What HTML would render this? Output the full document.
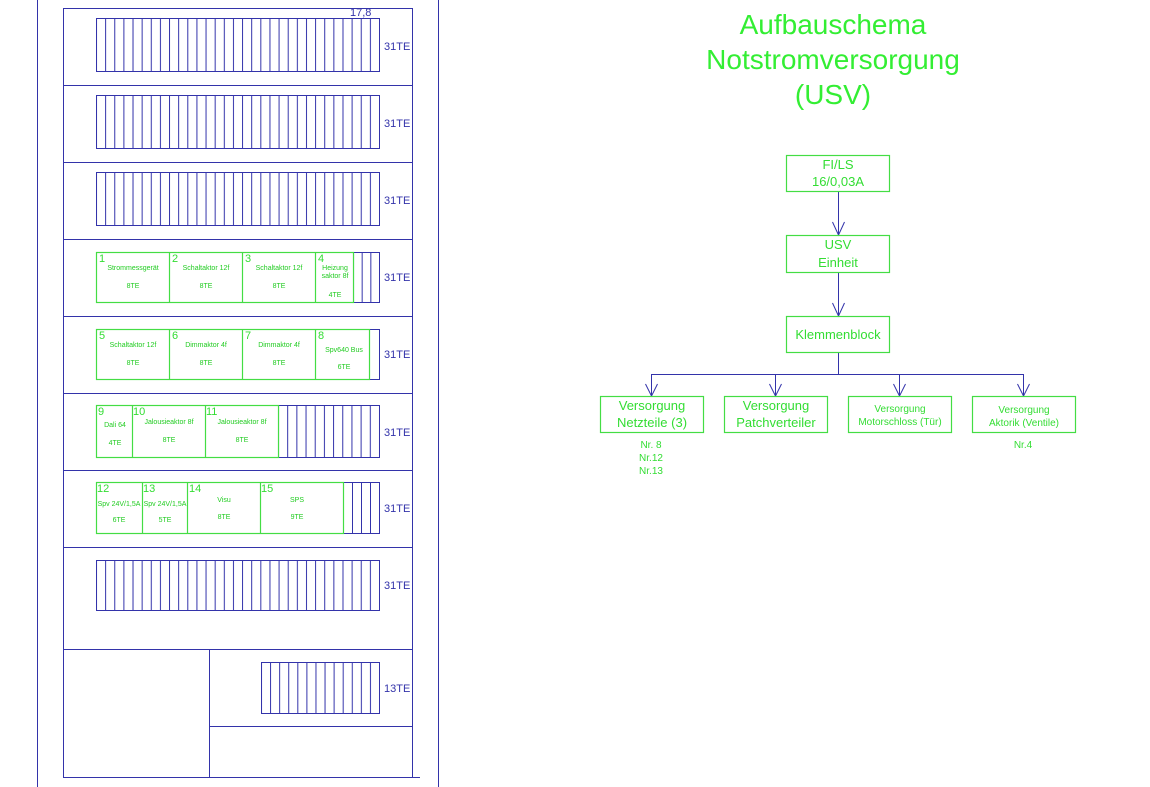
<!DOCTYPE html>
<html><head><meta charset="utf-8"><style>
html,body{margin:0;padding:0;background:#fff;}
svg{display:block;font-family:"Liberation Sans",sans-serif;}
</style></head><body>
<svg width="1150" height="787" viewBox="0 0 1150 787" xmlns="http://www.w3.org/2000/svg">
<defs>
<pattern id="p1" x="96" y="0" width="9.129" height="10" patternUnits="userSpaceOnUse"><line x1="0.5" y1="0" x2="0.5" y2="10" stroke="#3333aa" stroke-width="1"/></pattern>
<pattern id="p6" x="278" y="0" width="9.18" height="10" patternUnits="userSpaceOnUse"><line x1="0.5" y1="0" x2="0.5" y2="10" stroke="#3333aa" stroke-width="1"/></pattern>
<pattern id="p7" x="343" y="0" width="9" height="10" patternUnits="userSpaceOnUse"><line x1="0.5" y1="0" x2="0.5" y2="10" stroke="#3333aa" stroke-width="1"/></pattern>
<pattern id="p4" x="353" y="0" width="8.67" height="10" patternUnits="userSpaceOnUse"><line x1="0.5" y1="0" x2="0.5" y2="10" stroke="#3333aa" stroke-width="1"/></pattern>
<pattern id="p13" x="261" y="0" width="9.077" height="10" patternUnits="userSpaceOnUse"><line x1="0.5" y1="0" x2="0.5" y2="10" stroke="#3333aa" stroke-width="1"/></pattern>
</defs>
<g stroke="#3333aa" fill="none" stroke-width="1">
<line x1="37.5" y1="0" x2="37.5" y2="787"/>
<line x1="438.5" y1="0" x2="438.5" y2="787"/>
<rect x="63.5" y="8.5" width="349" height="769"/>
<line x1="63" y1="85.5" x2="412" y2="85.5"/>
<line x1="63" y1="162.5" x2="412" y2="162.5"/>
<line x1="63" y1="239.5" x2="412" y2="239.5"/>
<line x1="63" y1="316.5" x2="412" y2="316.5"/>
<line x1="63" y1="393.5" x2="412" y2="393.5"/>
<line x1="63" y1="470.5" x2="412" y2="470.5"/>
<line x1="63" y1="547.5" x2="412" y2="547.5"/>
<line x1="63" y1="649.5" x2="412" y2="649.5"/>
<line x1="209.5" y1="649" x2="209.5" y2="778"/>
<line x1="209" y1="726.5" x2="412" y2="726.5"/>
<line x1="412" y1="777.5" x2="420" y2="777.5"/>
</g>
<g stroke="#3333aa" stroke-width="1">
<rect x="96.5" y="18.5" width="283" height="53" fill="url(#p1)"/>
<rect x="96.5" y="95.5" width="283" height="53" fill="url(#p1)"/>
<rect x="96.5" y="172.5" width="283" height="53" fill="url(#p1)"/>
<rect x="96.5" y="560.5" width="283" height="50" fill="url(#p1)"/>
<rect x="261.5" y="662.5" width="118" height="51" fill="url(#p13)"/>
<rect x="353.5" y="252.5" width="26" height="50" fill="url(#p4)"/>
<rect x="369.5" y="329.5" width="10" height="50" fill="none"/>
<rect x="278.5" y="405.5" width="101" height="52" fill="url(#p6)"/>
<rect x="343.5" y="482.5" width="36" height="51" fill="url(#p7)"/>
</g>
<g fill="#3333aa" font-size="11">
<text x="350" y="16">17,8</text>
<text x="384" y="50">31TE</text>
<text x="384" y="127">31TE</text>
<text x="384" y="204">31TE</text>
<text x="384" y="281">31TE</text>
<text x="384" y="358">31TE</text>
<text x="384" y="436">31TE</text>
<text x="384" y="512">31TE</text>
<text x="384" y="589">31TE</text>
<text x="384" y="692">13TE</text>
</g>
<g stroke="#44dd44" fill="none" stroke-width="1.2">
<rect x="96.5" y="252.5" width="257" height="50"/>
<line x1="169.5" y1="252" x2="169.5" y2="303"/><line x1="242.5" y1="252" x2="242.5" y2="303"/><line x1="315.5" y1="252" x2="315.5" y2="303"/>
<rect x="96.5" y="329.5" width="273" height="50"/>
<line x1="169.5" y1="329" x2="169.5" y2="380"/><line x1="242.5" y1="329" x2="242.5" y2="380"/><line x1="315.5" y1="329" x2="315.5" y2="380"/>
<rect x="96.5" y="405.5" width="182" height="52"/>
<line x1="132.5" y1="405" x2="132.5" y2="458"/><line x1="205.5" y1="405" x2="205.5" y2="458"/>
<rect x="96.5" y="482.5" width="247" height="51"/>
<line x1="142.5" y1="482" x2="142.5" y2="534"/><line x1="187.5" y1="482" x2="187.5" y2="534"/><line x1="260.5" y1="482" x2="260.5" y2="534"/>
</g>
<g fill="#33dd33" font-size="11">
<text x="99" y="262">1</text><text x="172" y="262">2</text><text x="245" y="262">3</text><text x="318" y="262">4</text>
<text x="99" y="339">5</text><text x="172" y="339">6</text><text x="245" y="339">7</text><text x="318" y="339">8</text>
<text x="98" y="415">9</text><text x="133" y="415">10</text><text x="206" y="415">11</text>
<text x="97" y="492">12</text><text x="143" y="492">13</text><text x="189" y="492">14</text><text x="261" y="492">15</text>
</g>
<g fill="#22cc22" font-size="7" text-anchor="middle">
<text x="133" y="270">Strommessgerät</text><text x="133" y="288">8TE</text>
<text x="206" y="270">Schaltaktor 12f</text><text x="206" y="288">8TE</text>
<text x="279" y="270">Schaltaktor 12f</text><text x="279" y="288">8TE</text>
<text x="335" y="270">Heizung</text><text x="335" y="278">saktor 8f</text><text x="335" y="297">4TE</text>
<text x="133" y="347">Schaltaktor 12f</text><text x="133" y="365">8TE</text>
<text x="206" y="347">Dimmaktor 4f</text><text x="206" y="365">8TE</text>
<text x="279" y="347">Dimmaktor 4f</text><text x="279" y="365">8TE</text>
<text x="344" y="352">Spv640 Bus</text><text x="344" y="369">6TE</text>
<text x="115" y="427">Dali 64</text><text x="115" y="445">4TE</text>
<text x="169" y="424">Jalousieaktor 8f</text><text x="169" y="442">8TE</text>
<text x="242" y="424">Jalousieaktor 8f</text><text x="242" y="442">8TE</text>
<text x="119" y="506">Spv 24V/1,5A</text><text x="119" y="522">6TE</text>
<text x="165" y="506">Spv 24V/1,5A</text><text x="165" y="522">5TE</text>
<text x="224" y="502">Visu</text><text x="224" y="519">8TE</text>
<text x="297" y="502">SPS</text><text x="297" y="519">9TE</text>
</g>
<g fill="#33ee33" font-size="28" text-anchor="middle">
<text x="833" y="34">Aufbauschema</text>
<text x="833" y="69">Notstromversorgung</text>
<text x="833" y="104">(USV)</text>
</g>
<g stroke="#3333aa" fill="none" stroke-width="1">
<line x1="838.5" y1="191" x2="838.5" y2="235"/>
<path d="M832.5,222 L838.5,235 L844.5,222"/>
<line x1="838.5" y1="272" x2="838.5" y2="316"/>
<path d="M832.5,303 L838.5,316 L844.5,303"/>
<line x1="838.5" y1="352" x2="838.5" y2="374"/>
<line x1="651" y1="374.5" x2="1024" y2="374.5"/>
<line x1="651.5" y1="374" x2="651.5" y2="396"/>
<path d="M645.5,384 L651.5,396 L657.5,384"/>
<line x1="775.5" y1="374" x2="775.5" y2="396"/>
<path d="M769.5,384 L775.5,396 L781.5,384"/>
<line x1="899.5" y1="374" x2="899.5" y2="396"/>
<path d="M893.5,384 L899.5,396 L905.5,384"/>
<line x1="1023.5" y1="374" x2="1023.5" y2="396"/>
<path d="M1017.5,384 L1023.5,396 L1029.5,384"/>
</g>
<g stroke="#44dd44" fill="none" stroke-width="1.2">
<rect x="786.5" y="155.5" width="103" height="36"/>
<rect x="786.5" y="235.5" width="103" height="37"/>
<rect x="786.5" y="316.5" width="103" height="36"/>
<rect x="600.5" y="396.5" width="103" height="36"/>
<rect x="724.5" y="396.5" width="103" height="36"/>
<rect x="848.5" y="396.5" width="103" height="36"/>
<rect x="972.5" y="396.5" width="103" height="36"/>
</g>
<g fill="#33dd33" text-anchor="middle">
<text x="838" y="169" font-size="13">FI/LS</text>
<text x="838" y="186" font-size="13">16/0,03A</text>
<text x="838" y="249" font-size="13">USV</text>
<text x="838" y="267" font-size="13">Einheit</text>
<text x="838" y="339" font-size="13">Klemmenblock</text>
<text x="652" y="410" font-size="13">Versorgung</text>
<text x="652" y="427" font-size="13">Netzteile (3)</text>
<text x="776" y="410" font-size="13">Versorgung</text>
<text x="776" y="427" font-size="13">Patchverteiler</text>
<text x="900" y="412" font-size="10">Versorgung</text>
<text x="900" y="425" font-size="10">Motorschloss (Tür)</text>
<text x="1024" y="413" font-size="10">Versorgung</text>
<text x="1024" y="426" font-size="10">Aktorik (Ventile)</text>
<text x="651" y="448" font-size="10">Nr. 8</text>
<text x="651" y="461" font-size="10">Nr.12</text>
<text x="651" y="474" font-size="10">Nr.13</text>
<text x="1023" y="448" font-size="10">Nr.4</text>
</g>
</svg>
</body></html>
